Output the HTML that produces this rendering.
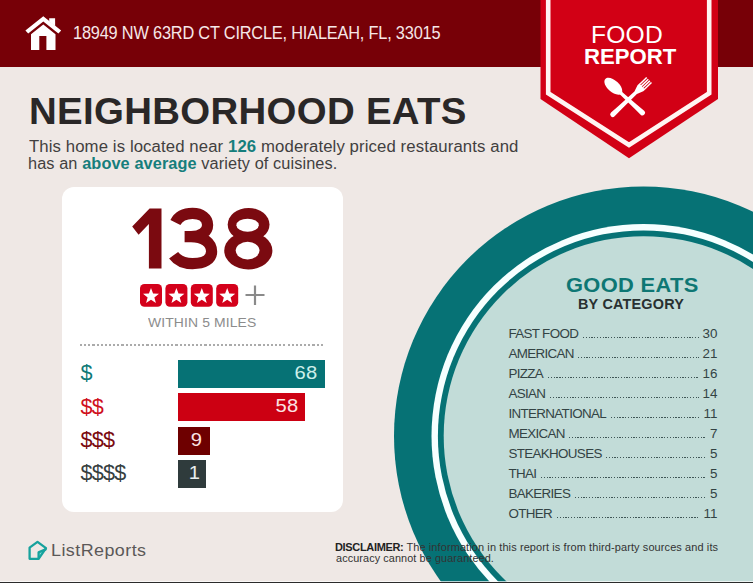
<!DOCTYPE html>
<html><head><meta charset="utf-8">
<style>
*{margin:0;padding:0;box-sizing:border-box}
html,body{width:753px;height:583px;overflow:hidden}
body{position:relative;background:#efe8e5;font-family:"Liberation Sans",sans-serif;color:#333}
.a{position:absolute;white-space:nowrap;line-height:1}
#hdr{position:absolute;left:0;top:0;width:753px;height:66.5px;background:#770007}
#bot{position:absolute;left:0;top:580.8px;width:753px;height:1.2px;background:rgba(255,255,255,0.7)}
#bot2{position:absolute;left:0;top:582px;width:753px;height:1px;background:#2b2b2b}
#card{position:absolute;left:62px;top:186.6px;width:281px;height:325px;background:#fff;border-radius:12px}
.bar{position:absolute;left:178px;height:28.2px;color:#fbe3e3;font-size:18px;line-height:26.6px;text-align:right;padding-right:7.3px}
.bar span{display:inline-block;transform:scaleX(1.12);transform-origin:100% 50%;letter-spacing:0.3px}
.lbl{position:absolute;left:80.5px;font-size:21.6px;line-height:1;letter-spacing:-0.75px}
.row{position:absolute;left:508.4px;width:209.1px;height:14px;font-size:13.4px;color:#334344;line-height:14px;display:flex;align-items:flex-end}
.row .l{flex:none;letter-spacing:-0.65px}
.row .n{flex:none}
.row .d{flex:1;margin:0 4px 2.6px 4.5px;height:1.5px;background:repeating-linear-gradient(to right,#3f5656 0 1.3px,transparent 1.3px 2.8px)}
</style></head><body>
<div id="hdr"></div>
<svg style="position:absolute;left:0;top:0" width="753" height="583" viewBox="0 0 753 583">
  <!-- circle -->
  <circle cx="643.5" cy="436" r="249.5" fill="#067275"/>
  <circle cx="643.5" cy="436" r="212" fill="#f6ffff"/>
  <circle cx="643.5" cy="436" r="205.6" fill="#067275"/>
  <circle cx="643.5" cy="436" r="199.8" fill="#c2dcd8"/>
  <!-- badge -->
  <polygon points="540.5,0 540.5,99 629,158.2 718,99 718,0" fill="#d20015"/>
  <polyline points="548.2,-2 548.2,93.3 629,145 709.2,93.3 709.2,-2" fill="none" stroke="#fff4f2" stroke-width="4.6"/>
  <!-- house icon -->
  <g fill="#fff">
    <polygon points="25.4,30.4 43.3,16.2 61.2,30.4 58.4,33.4 43.3,21.4 28.2,33.4"/>
    <polygon points="49.2,18.3 55.1,18.3 55.1,26.3 49.2,21.6"/>
    <path d="M31,34.2 L43.3,24.4 L55.5,34.2 L55.5,49.9 L46.4,49.9 L46.4,36 L39.3,36 L39.3,49.9 L31,49.9 Z"/>
  </g>
  <!-- fork & spoon -->
  <g fill="#fff">
    <g transform="translate(611,116.2) rotate(-43.5)">
      <path d="M2.5,-2.6 L12,-2.2 L34,-1.8 L40.5,-4.2 L43,-4.2 L43,4.2 L40.5,4.2 L34,1.8 L12,2.2 L2.5,2.6 A2.6,2.6 0 0 1 2.5,-2.6 Z"/>
      <rect x="42.5" y="-4.2" width="10" height="1.5"/>
      <rect x="42.5" y="-1.9" width="10" height="1.5"/>
      <rect x="42.5" y="0.4" width="10" height="1.5"/>
      <rect x="42.5" y="2.7" width="10" height="1.5"/>
    </g>
    <g transform="translate(644.3,114.5) rotate(-137.6)">
      <path d="M2.6,-2.6 L12,-2.3 L30,-1.7 L33,-1.7 L33,1.7 L30,1.7 L12,2.3 L2.6,2.6 A2.6,2.6 0 0 1 2.6,-2.6 Z"/>
      <path d="M30.5,0 C32,-4 37,-5.8 41.5,-5.8 C47.5,-5.8 52.8,-3.5 52.8,0 C52.8,3.5 47.5,5.8 41.5,5.8 C37,5.8 32,4 30.5,0 Z"/>
    </g>
  </g>
  <!-- ListReports logo -->
  <path d="M38.6,558.6 L38.6,552.4 L45.6,549.4 Z" fill="#8fe3dc"/>
  <g fill="none" stroke="#17a29d" stroke-width="2.3" stroke-linejoin="round" stroke-linecap="round">
    <path d="M29.6,547.6 L37.5,541.9 L46,548.1 L38.6,558.8 L29.6,558.8 Z"/>
    <path d="M38.6,558.6 L38.6,552.4 L45.6,549.4"/>
  </g>
</svg>

<div class="a" id="addr" style="left:73.00px;top:25.41px;font-size:17.43px;color:#f6e7e7;letter-spacing:-0.20px;transform:scaleX(0.9372);transform-origin:0 0">18949 NW 63RD CT CIRCLE, HIALEAH, FL, 33015</div>
<div class="a" id="food" style="left:591.40px;top:24.01px;font-size:23.71px;color:#fff;letter-spacing:0.20px;transform:scaleX(1.0380);transform-origin:0 0">FOOD</div>
<div class="a" id="report" style="left:583.60px;top:46.23px;font-size:22.29px;font-weight:bold;color:#fff;letter-spacing:0.00px;transform:scaleX(0.9946);transform-origin:0 0">REPORT</div>

<div class="a" id="title" style="left:28.60px;top:92.86px;font-size:37.14px;font-weight:bold;color:#2a2727;letter-spacing:0.30px;transform:scaleX(1.0346);transform-origin:0 0">NEIGHBORHOOD EATS</div>
<div class="a" id="p1" style="left:29.20px;top:139.04px;font-size:16.00px;color:#423f3f;letter-spacing:0.10px;transform:scaleX(1.0461);transform-origin:0 0">This home is located near <b style="color:#167e7c">126</b> moderately priced restaurants and</div>
<div class="a" id="p2" style="left:28.20px;top:156.04px;font-size:16.00px;color:#423f3f;letter-spacing:0.10px;transform:scaleX(1.0183);transform-origin:0 0">has an <b style="color:#167e7c">above average</b> variety of cuisines.</div>

<div id="card"></div>
<svg id="n138" style="position:absolute;left:0;top:0" width="753" height="583" viewBox="0 0 753 583">
  <g fill="#7b0a10">
    <polygon points="161.5,208.6 161.5,268.4 148.9,268.4 148.9,224 138.6,234.8 132.2,226.4 149.6,208.6"/>
    <path d="M175.4,222.5 C179,215.5 185.5,213.4 192.5,213.4 C201.5,213.4 207.6,218 207.6,225 C207.6,232 201,236.6 191,236.6 L184.6,236.6 M191,236.6 C203.5,236.6 211.6,242.5 211.6,251.6 C211.6,259.5 204,263.6 192.5,263.6 C184,263.6 177.5,260.5 173.6,255.2" fill="none" stroke="#7b0a10" stroke-width="11.2"/>
    <ellipse cx="248.6" cy="224.6" rx="20.9" ry="16.6"/>
    <ellipse cx="248.3" cy="250.7" rx="24.1" ry="18.7"/>
  </g>
  <g fill="#fff">
    <ellipse cx="247.6" cy="225.2" rx="11.2" ry="6.5"/>
    <ellipse cx="247.6" cy="250.6" rx="11.9" ry="8.8"/>
  </g>
</svg>
<svg style="position:absolute;left:139.6px;top:283.8px" width="102" height="24" viewBox="0 0 102 24">
    <rect x="0.00" y="0" width="22" height="22.7" rx="4.5" fill="#d4011b"/>
  <rect x="25.40" y="0" width="22" height="22.7" rx="4.5" fill="#d4011b"/>
  <rect x="50.80" y="0" width="22" height="22.7" rx="4.5" fill="#d4011b"/>
  <rect x="76.20" y="0" width="22" height="22.7" rx="4.5" fill="#d4011b"/>
  <polygon points="0.00,-8.40 2.09,-2.87 7.99,-2.60 3.38,1.10 4.94,6.80 0.00,3.55 -4.94,6.80 -3.38,1.10 -7.99,-2.60 -2.09,-2.87" fill="#fff" transform="translate(11.00,12.3)"/><polygon points="0.00,-8.40 2.09,-2.87 7.99,-2.60 3.38,1.10 4.94,6.80 0.00,3.55 -4.94,6.80 -3.38,1.10 -7.99,-2.60 -2.09,-2.87" fill="#fff" transform="translate(36.40,12.3)"/><polygon points="0.00,-8.40 2.09,-2.87 7.99,-2.60 3.38,1.10 4.94,6.80 0.00,3.55 -4.94,6.80 -3.38,1.10 -7.99,-2.60 -2.09,-2.87" fill="#fff" transform="translate(61.80,12.3)"/><polygon points="0.00,-8.40 2.09,-2.87 7.99,-2.60 3.38,1.10 4.94,6.80 0.00,3.55 -4.94,6.80 -3.38,1.10 -7.99,-2.60 -2.09,-2.87" fill="#fff" transform="translate(87.20,12.3)"/>
</svg>
<svg style="position:absolute;left:245px;top:285px" width="20" height="20" viewBox="0 0 20 20">
  <path d="M10,0.4 V19.9 M0.5,10 H19.5" stroke="#8a8a8a" stroke-width="2.2"/>
</svg>
<div class="a" id="within" style="left:148.40px;top:315.65px;font-size:13.43px;color:#8c8c8c;letter-spacing:0.10px;transform:scaleX(1.0389);transform-origin:0 0">WITHIN 5 MILES</div>
<div style="position:absolute;left:80.3px;top:344px;width:245px;height:2px;background:repeating-linear-gradient(to right,#ababab 0 2.1px,transparent 2.1px 4.15px)"></div>

<div class="lbl" id="l1" style="top:362.1px;color:#0f7a78">$</div>
<div class="lbl" id="l2" style="top:395.9px;color:#cf1020">$$</div>
<div class="lbl" id="l3" style="top:429.0px;color:#7a0a10">$$$</div>
<div class="lbl" id="l4" style="top:462.1px;color:#36403f">$$$$</div>

<div class="bar" id="b1" style="top:359.6px;width:147px;background:#067275;color:#cdefea"><span>68</span></div>
<div class="bar" id="b2" style="top:392.6px;width:127px;background:#cc0012;padding-right:6.5px"><span>58</span></div>
<div class="bar" id="b3" style="top:426.6px;width:31.5px;background:#6e0000"><span>9</span></div>
<div class="bar" id="b4" style="top:459.6px;width:27.9px;background:#2f3b3c;color:#e8eeee;padding-right:6px"><span>1</span></div>

<div class="a" id="ge" style="left:565.80px;top:275.62px;font-size:19.86px;font-weight:bold;color:#0e7774;letter-spacing:0.30px;transform:scaleX(1.1017);transform-origin:0 0">GOOD EATS</div>
<div class="a" id="bc" style="left:578.00px;top:297.98px;font-size:13.86px;font-weight:bold;color:#283031;letter-spacing:0.20px;transform:scaleX(1.0397);transform-origin:0 0">BY CATEGORY</div>

<div class="row" style="top:326.9px"><span class="l">FAST FOOD</span><span class="d"></span><span class="n">30</span></div>
<div class="row" style="top:346.9px"><span class="l">AMERICAN</span><span class="d"></span><span class="n">21</span></div>
<div class="row" style="top:366.9px"><span class="l">PIZZA</span><span class="d"></span><span class="n">16</span></div>
<div class="row" style="top:386.9px"><span class="l">ASIAN</span><span class="d"></span><span class="n">14</span></div>
<div class="row" style="top:406.9px"><span class="l">INTERNATIONAL</span><span class="d"></span><span class="n">11</span></div>
<div class="row" style="top:426.9px"><span class="l">MEXICAN</span><span class="d"></span><span class="n">7</span></div>
<div class="row" style="top:446.9px"><span class="l">STEAKHOUSES</span><span class="d"></span><span class="n">5</span></div>
<div class="row" style="top:466.9px"><span class="l">THAI</span><span class="d"></span><span class="n">5</span></div>
<div class="row" style="top:486.9px"><span class="l">BAKERIES</span><span class="d"></span><span class="n">5</span></div>
<div class="row" style="top:506.9px"><span class="l">OTHER</span><span class="d"></span><span class="n">11</span></div>

<div class="a" id="lr" style="left:51.00px;top:543.44px;font-size:16.00px;color:#5b5858;letter-spacing:0.40px;transform:scaleX(1.1191);transform-origin:0 0">ListReports</div>
<div class="a" id="d1" style="left:335.00px;top:543.33px;font-size:10.43px;color:#333;letter-spacing:0.10px;transform:scaleX(1.0525);transform-origin:0 0"><b style="color:#222;letter-spacing:-0.3px">DISCLAIMER:</b> The information in this report is from third-party sources and its</div>
<div class="a" id="d2" style="left:336.00px;top:554.13px;font-size:10.43px;color:#333;letter-spacing:0.10px;transform:scaleX(1.0397);transform-origin:0 0">accuracy cannot be guaranteed.</div>
<div id="bot"></div><div id="bot2"></div>
</body></html>
